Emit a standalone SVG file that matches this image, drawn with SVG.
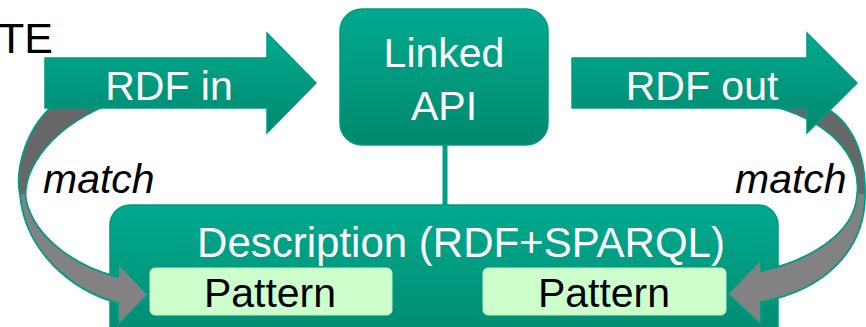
<svg xmlns="http://www.w3.org/2000/svg" width="866" height="327" viewBox="0 0 866 327">
  <defs>
    <linearGradient id="teal" x1="0" y1="0" x2="0" y2="1">
      <stop offset="0" stop-color="#00aa8f"/>
      <stop offset="1" stop-color="#00896f"/>
    </linearGradient>
    <linearGradient id="greyL" gradientUnits="userSpaceOnUse" x1="0" y1="100" x2="0" y2="330">
      <stop offset="0.41" stop-color="#676767"/>
      <stop offset="0.41" stop-color="#828282"/>
    </linearGradient>
    <style>
      .teal { fill: url(#teal); stroke: #009a80; stroke-width: 1.5; }
      .curve { fill: url(#greyL); stroke: #009c86; stroke-width: 1.8; stroke-linejoin: round; }
      .pat { fill: #ccffcc; stroke: #bfeebf; stroke-width: 1; }
      .wt { font-family: "Liberation Sans", Arial, sans-serif; font-size: 41px; fill: #ffffff; text-anchor: middle; }
      .bk { font-family: "Liberation Sans", Arial, sans-serif; font-size: 41px; fill: #000000; text-anchor: middle; }
      .it { font-family: "Liberation Sans", Arial, sans-serif; font-size: 41px; font-style: italic; fill: #000000; }
      .hd { font-family: "Liberation Sans", Arial, sans-serif; font-size: 43px; fill: #000000; }
      .link { stroke: #009c84; stroke-width: 5; fill: none; }
    </style>
  </defs>

  <rect width="866" height="327" fill="#ffffff"/>

  <!-- partially visible heading -->
  <text x="-2" y="53" class="hd">TE</text>

  <!-- description block -->
  <g id="description">
    <rect class="teal" x="110" y="205" width="668" height="145" rx="20"/>
    <text x="461" y="257" class="wt" style="font-size:42px">Description (RDF+SPARQL)</text>
  </g>

  <!-- connectors: curved match arrows and the API link -->
  <g id="connectors">
    <path id="match-left" class="curve" d="M60,100 C25,125 15,170 20,195 C25,250 70,290 118,303 L118,325 L148,295 L118,263 L118,277 C80,268 35,240 26,200 C22,170 50,125 120,100 Z"/>
    <path id="match-right" class="curve" d="M790,100 C845,100 866,145 865,195 C865,250 825,290 761,302 L761,325 L728,294 L761,259 L761,271 C805,262 855,235 857,195 C862,160 835,115 745,100 Z"/>
    <line class="link" x1="445" y1="144" x2="445" y2="206"/>
  </g>

  <g id="rdf-in">
    <polygon class="teal" points="45,58 267,58 267,33 316,83 267,133 267,108 45,108"/>
    <text x="169" y="100" class="wt">RDF in</text>
  </g>

  <g id="rdf-out">
    <polygon class="teal" points="572,58 807,58 807,33 857,83 807,133 807,108 572,108"/>
    <text x="702" y="100" class="wt">RDF out</text>
  </g>

  <g id="linked-api">
    <rect class="teal" x="340" y="9" width="208" height="136" rx="22"/>
    <text x="444" y="67" class="wt">Linked</text>
    <text x="444" y="120" class="wt">API</text>
  </g>

  <g id="pattern-left">
    <rect class="pat" x="150" y="268" width="242" height="47" rx="5"/>
    <text x="270" y="307" class="bk">Pattern</text>
  </g>

  <g id="pattern-right">
    <rect class="pat" x="483" y="268" width="243" height="47" rx="5"/>
    <text x="604" y="307" class="bk">Pattern</text>
  </g>

  <g id="labels">
    <text x="43" y="193" class="it">match</text>
    <text x="735" y="193" class="it">match</text>
  </g>
</svg>
